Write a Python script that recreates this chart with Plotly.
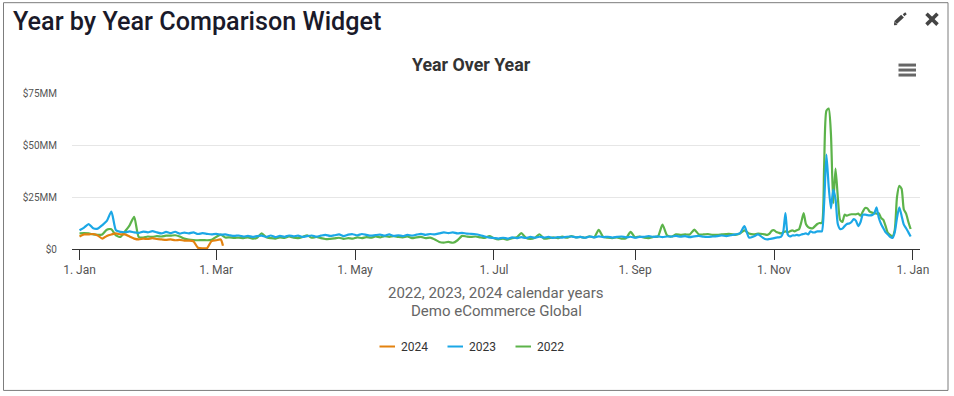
import pandas as pd
import plotly.graph_objects as go

BASE = pd.Timestamp("2024-01-01")

series_names = ["2024", "2023", "2022"]
series_colors = ["#e3820f", "#1ba7e6", "#5cb34a"]

days_2024 = list(range(0, 64, 2)) + [63]
values_2024 = [6, 7, 7, 7.2, 6.5, 5, 6.3, 7, 7.5, 7, 7, 6, 5, 4.6, 5, 4.8, 5.2, 4.8, 4.6, 4.4, 4.6, 4.2, 4.4, 4, 4,
               3.7, 0.6, 0.3, 0.4, 3.8, 4.2, 4.6, 1.6]

days_full = list(range(0, 300, 2)) + list(range(300, 366))

values_2023 = [
    9, 10.3, 12, 10, 9.8, 11.5, 13.5, 18, 9, 8.2,
    8, 8.5, 8, 7.8, 8.4, 8, 8.6, 8, 7.5, 8.2, 7.6, 8.3, 7.4, 7.9, 7.5, 8, 7.2, 7.6, 7.3, 7.0,
    7.3, 6.9, 7, 6.6, 6.3, 6.5, 6, 6.3, 5.8, 6.2, 6.4, 5.8, 6.5, 5.7, 6.3, 5.9, 6.5, 6.1, 6.4, 5.8,
    6.2, 6.5, 5.9, 6.4, 6.8, 6.3, 6.6, 7, 6.2, 6.9, 7.1, 6.6, 7.2, 6.8, 6.4, 6.7, 6.9, 6.4, 7, 6.3,
    6.6, 6.2, 6.8, 6.4, 6.9, 7.3, 6.8, 7.2, 7.0, 7.5, 8, 7.6, 8, 7.5, 7.8, 7.4, 7.3, 7.1, 6.6, 6,
    5.5, 5.3, 5, 5.4, 5, 5.6, 5.2, 5.7, 5.3, 5.8, 5.4, 5.9, 5.5, 5.8, 5.3, 5.7, 5.5, 5.9, 6, 5.6,
    5.8, 5.4, 6, 5.6, 6.1, 5.7, 5.9, 5.5, 5.8, 6, 5.6, 5.9, 5.4, 5.8, 5.9, 6.2, 5.8, 6.1, 5.7, 6,
    6, 6.3, 5.9, 6.2, 5.7, 6.1, 6.3, 5.9, 5.8, 6, 6.2, 6.5, 6.2, 6.6, 7, 7.5, 11, 5.5, 6, 7.0,
    5.5, 4.8, 4.6, 4.8, 5, 5.2, 5.5, 5.6, 5.8, 8, 17.3, 7, 6, 6.5, 6.5, 6.8, 6.5, 7, 7.2, 7.5,
    7, 8.5, 8, 8, 8.5, 8.5, 8.5, 22, 45.4, 30, 19.5, 28.5, 24, 12, 9.6, 9.8, 11, 12, 12.3, 13,
    14.4, 13.5, 11, 13, 16.5, 16.5, 16.3, 16.2, 16.3, 17, 20, 15, 12, 10, 8, 7, 5.8, 5.3, 8, 15,
    20, 16, 11.7, 10, 8, 6,
]

values_2022 = [
    7.5, 7.6, 7.5, 7, 6.8, 7, 9.3, 9.5, 6.5, 5.8,
    8.5, 11.4, 15.5, 5.8, 5.5, 6, 5.8, 6.2, 6, 6.4, 6.4, 6.6, 6, 5, 4.5, 4.3, 4.2, 4.3, 4.2, 4.4,
    5.8, 6.9, 5.5, 5.6, 5.3, 5.5, 5.2, 5.6, 5, 5.4, 7.5, 5.6, 5.2, 5, 5.6, 5.3, 6, 5.4, 5.2, 5.8,
    6.6, 5.4, 5.8, 5.2, 4.8, 4.9, 5.1, 5.4, 4.9, 5.2, 5, 5.6, 5.2, 5.7, 5.4, 6, 5.6, 6.2, 5.8, 6.2,
    5.8, 5.6, 6, 5.2, 5.6, 5.8, 5.2, 5.5, 4.6, 3.4, 3.1, 3.4, 3, 4.2, 6.3, 6, 5.8, 6, 5.6, 5.3,
    6.2, 5.2, 4.6, 5, 4.5, 5.2, 5.6, 7.6, 5.4, 4.8, 5.4, 7.1, 5, 5.2, 5.6, 5.2, 6, 5.4, 6.2, 5.6,
    5.8, 5.4, 6.1, 5.6, 9.2, 5.8, 5.4, 5.2, 5.6, 5, 5.2, 8.2, 5.6, 6, 5.4, 5.2, 5.8, 6, 11.7, 6.6,
    6, 7, 6.8, 7, 7, 9.3, 7, 7, 7.2, 6.8, 6.8, 7, 7.2, 7.2, 6.8, 7.4, 9, 7.4, 7, 7.4,
    7.2, 7, 6.8, 7.4, 8.8, 9, 8.2, 7.8, 7.5, 8, 8.5, 8, 8.5, 9, 8.5, 9, 9.5, 13, 17.3, 12,
    10.5, 10, 10, 11, 12, 12.5, 12.5, 40, 66.5, 67.5, 55, 22, 38.6, 25, 14, 13, 16.5, 16, 16.5, 16.7,
    16.7, 16.7, 17, 16, 18, 19.7, 19.5, 18, 17.5, 17.2, 17, 17.2, 15, 14, 11, 7.7, 6.8, 6, 9, 25,
    30.4, 29, 19, 17, 13, 9.6,
]

x_tick_dates = ["2024-01-01", "2024-03-01", "2024-05-01", "2024-07-01", "2024-09-01", "2024-11-01", "2025-01-01"]
x_tick_labels = ["1. Jan", "1. Mar", "1. May", "1. Jul", "1. Sep", "1. Nov", "1. Jan"]
y_tick_vals = [0, 25, 50, 75]
y_tick_labels = ["$0", "$25MM", "$50MM", "$75MM"]

W, H = 954, 396
L, R, T, B = 72, 920, 93, 249.3


def px(x):
    return (x - L) / (R - L)


def py(y):
    return 1 - (y - T) / (B - T)


def dates(days):
    return [BASE + pd.Timedelta(days=d) for d in days]


fig = go.Figure()
# drawn bottom to top: 2022, 2023, 2024
for name, color, d, v in [
    (series_names[2], series_colors[2], days_full, values_2022),
    (series_names[1], series_colors[1], days_full, values_2023),
    (series_names[0], series_colors[0], days_2024, values_2024),
]:
    fig.add_trace(go.Scatter(x=dates(d), y=v, name=name, mode="lines", showlegend=False,
                             line=dict(color=color, width=2.2, shape="spline", smoothing=0.6)))


def ann(text, x, y, size, color, xanchor="center", weight=None):
    font = dict(family="Roboto", size=size, color=color)
    if weight:
        font["weight"] = weight
    return dict(text=text, x=px(x), y=py(y), xref="paper", yref="paper", showarrow=False,
                xanchor=xanchor, yanchor="middle", font=font)


def poly(points, color):
    path = "M" + " L".join(f"{px(a):.5f},{py(b):.5f}" for a, b in points) + " Z"
    return dict(type="path", xref="paper", yref="paper", path=path, fillcolor=color, line=dict(width=0))


def seg(x0, y0, x1, y1, color, width):
    return dict(type="line", xref="paper", yref="paper", x0=px(x0), y0=py(y0), x1=px(x1), y1=py(y1),
                line=dict(color=color, width=width))


shapes = [
    dict(type="rect", xref="paper", yref="paper", x0=px(3.5), y0=py(2.5), x1=px(948), y1=py(391),
         line=dict(color="#7d7d7d", width=1), layer="below"),
    seg(898.5, 65, 916, 65, "#666666", 3),
    seg(898.5, 70, 916, 70, "#666666", 3),
    seg(898.5, 75, 916, 75, "#666666", 3),
    seg(926.5, 13.5, 937.5, 24.5, "#444444", 3.6),
    seg(937.5, 13.5, 926.5, 24.5, "#444444", 3.6),
    seg(895.5, 22.5, 902.5, 16, "#444444", 4),
    seg(903.5, 15, 906, 13, "#444444", 2.5),
    poly([(894, 25), (894.2, 21.5), (897.5, 24.8)], "#444444"),
]

legend_anns = []
for name, color, lx in zip(series_names, series_colors, [379.5, 447.5, 515.5]):
    shapes.append(seg(lx, 347, lx + 15.5, 347, color, 2))
    legend_anns.append(ann(name, lx + 19.5, 347, 12, "#333333", "left"))

fig.update_layout(
    width=W, height=H,
    margin=dict(l=L, r=W - R, t=T, b=H - B),
    paper_bgcolor="white", plot_bgcolor="white",
    font=dict(family="Roboto", color="#333333"),
    showlegend=False,
    xaxis=dict(type="date", range=[BASE - pd.Timedelta(days=3.3), BASE + pd.Timedelta(days=369.1)],
               tickmode="array", tickvals=x_tick_dates, ticktext=x_tick_labels,
               ticks="outside", ticklen=10, tickcolor="#333333", tickwidth=1,
               showline=True, linecolor="#333333", linewidth=1, showgrid=False, zeroline=False,
               tickfont=dict(family="Roboto", size=12, color="#555555")),
    yaxis=dict(range=[0, 75], tickmode="array", tickvals=y_tick_vals, ticktext=y_tick_labels,
               showgrid=True, gridcolor="#e6e6e6", gridwidth=1, zeroline=False, showline=False,
               ticks="", ticklabelstandoff=14,
               tickfont=dict(family="Roboto", size=10, color="#555555")),
    annotations=[
        ann("Year by Year Comparison Widget", 11, 21, 25.2, "#1a1a2a", "left", 500),
        ann("<b>Year Over Year</b>", 471, 64, 17.8, "#333333"),
        ann("2022, 2023, 2024 calendar years", 496, 293, 15, "#666666"),
        ann("Demo eCommerce Global", 496, 311, 15, "#666666"),
    ] + legend_anns,
    shapes=shapes,
)

fig.write_html("out.html", config={"displayModeBar": False},
               post_script="document.body.style.margin='0';document.body.style.overflow='hidden';")
